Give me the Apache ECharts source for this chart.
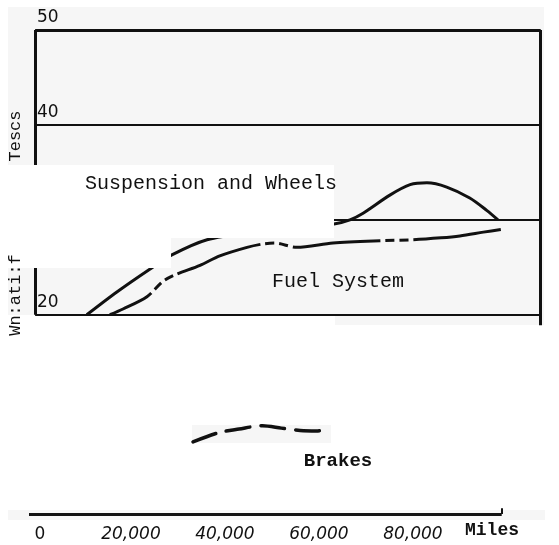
<!DOCTYPE html>
<html>
<head>
<meta charset="utf-8">
<script src="https://cdn.jsdelivr.net/npm/echarts@6/dist/echarts.min.js"></script>
<style>
html, body { margin: 0; padding: 0; background: #fff; }
#chart { width: 559px; height: 545px; }
</style>
</head>
<body>
<div id="chart"></div>
<script>
// [thousand miles, value]
const suspension = [[10.6, 20.0], [17, 22.4], [24.0, 24.8], [28.7, 26.3], [36.2, 27.9], [45.3, 28.6],
  [56.0, 29.0], [63.2, 29.55], [66.6, 30.0], [69.4, 30.7], [75.1, 32.6], [79.4, 33.7], [83.0, 33.9],
  [87.2, 33.45], [92.1, 32.3], [95.7, 31.0], [98.1, 30.0]];
const fuel = [[15.5, 20.0], [18.3, 20.6], [23.4, 21.9], [26.8, 23.5], [29.4, 24.2], [34.7, 25.2],
  [38.9, 26.2], [44.7, 27.1], [48, 27.45], [50.6, 27.55], [55.3, 27.1], [63, 27.55], [73, 27.8],
  [80, 27.9], [86, 28.1], [90, 28.3], [95, 28.7], [98.9, 29.0]];
const brakes = [[33.2, 6.6], [38.5, 7.55], [43, 7.95], [48, 8.3], [52, 8.05], [56, 7.8], [59.5, 7.75], [62.3, 8.05]];

const xTicks = [0, 20000, 40000, 60000, 80000];
const xTickLabels = ['0', '20,000', '40,000', '60,000', '80,000'];
const yTicks = [20, 40, 50];
const levels = [50, 40, 30, 20];

const toMiles = arr => arr.map(p => [p[0] * 1000, p[1]]);

const INK = '#111';
const left = -400, right = 107200;

// frame and level lines
const frame = levels.map((v, i) => [
  { coord: [left, v], lineStyle: { width: i === 0 ? 3 : 2 } },
  { coord: [right, v] }
]);
frame.push([{ coord: [left, 50], lineStyle: { width: 3 } }, { coord: [left, 20] }]);
frame.push([{ coord: [right, 50], lineStyle: { width: 3 } }, { coord: [right, 18.9] }]);
frame.push([{ coord: [-1700, -1], lineStyle: { width: 3 } }, { coord: [98900, -1] }]);
frame.push([{ coord: [98900, -1], lineStyle: { width: 2 } }, { coord: [98900, -0.4] }]);

const chart = echarts.init(document.getElementById('chart'));
chart.setOption({
  animation: false,
  backgroundColor: '#fff',
  grid: { left: 29, right: 15, top: 30, bottom: 31 },
  xAxis: {
    type: 'value', min: -1700, max: 107900,
    axisLine: { show: false }, axisTick: { show: false }, splitLine: { show: false },
    name: 'Miles', nameLocation: 'end', nameGap: -79,
    nameTextStyle: { fontFamily: 'Liberation Mono', fontWeight: 'bold', fontSize: 18, color: INK,
      verticalAlign: 'top', padding: [17, 0, 0, 0] },
    axisLabel: {
      customValues: xTicks, margin: 12,
      formatter: v => {
        const i = xTicks.indexOf(v);
        return (i === 0 ? '{up|' : '{it|') + xTickLabels[i] + '}';
      },
      rich: {
        up: { fontFamily: 'DejaVu Sans', fontSize: 17, color: INK, padding: [0, 0, 0, 6] },
        it: { fontFamily: 'DejaVu Sans', fontStyle: 'italic', fontSize: 17, color: INK }
      }
    }
  },
  yAxis: {
    type: 'value', min: -1, max: 50,
    axisLine: { show: false }, axisTick: { show: false }, splitLine: { show: false },
    axisLabel: {
      customValues: yTicks, inside: true, margin: 8,
      fontFamily: 'DejaVu Sans', fontSize: 17, color: INK,
      verticalAlign: 'bottom', padding: [0, 0, 4, 0]
    }
  },
  series: [
    {
      name: 'Suspension and Wheels', type: 'line', data: toMiles(suspension), smooth: 0.3,
      symbol: 'none', lineStyle: { color: INK, width: 3 }, silent: true
    },
    {
      name: 'Fuel System', type: 'line', data: toMiles(fuel), smooth: 0.3,
      symbol: 'none', lineStyle: { color: INK, width: 3, type: [88, 5, 9, 5, 9, 5], dashOffset: 41 },
      silent: true
    },
    {
      name: 'Brakes', type: 'line', data: toMiles(brakes), smooth: 0.3,
      symbol: 'none', lineStyle: { color: INK, width: 3.5, type: [24, 11], cap: 'round' }, silent: true,
      markLine: {
        silent: true, symbol: ['none', 'none'], label: { show: false },
        lineStyle: { color: INK, type: 'solid' },
        data: frame
      }
    }
  ],
  graphic: [
    // paper tones of the scan
    { type: 'rect', z: -10, silent: true, shape: { x: 8, y: 7, width: 536, height: 308 }, style: { fill: '#f6f6f6' } },
    { type: 'rect', z: -10, silent: true, shape: { x: 335, y: 315, width: 209, height: 10 }, style: { fill: '#f6f6f6' } },
    { type: 'rect', z: -10, silent: true, shape: { x: 192, y: 425, width: 139, height: 18 }, style: { fill: '#f6f6f6' } },
    { type: 'rect', z: -10, silent: true, shape: { x: 8, y: 510, width: 537, height: 10 }, style: { fill: '#f6f6f6' } },
    // pasted label patch
    { type: 'rect', z: 100, silent: true, shape: { x: 0, y: 165, width: 334, height: 73 }, style: { fill: '#fff' } },
    { type: 'rect', z: 100, silent: true, shape: { x: 0, y: 237, width: 171, height: 31 }, style: { fill: '#fff' } },
    { type: 'text', z: 101, silent: true, x: 85, y: 184,
      style: { text: 'Suspension and Wheels', fontFamily: 'Liberation Mono', fontSize: 20, fill: INK, verticalAlign: 'middle' } },
    { type: 'text', z: 101, silent: true, x: 338, y: 282,
      style: { text: 'Fuel System', fontFamily: 'Liberation Mono', fontSize: 20, fill: INK, align: 'center', verticalAlign: 'middle' } },
    { type: 'text', z: 101, silent: true, x: 338, y: 461,
      style: { text: 'Brakes', fontFamily: 'Liberation Mono', fontSize: 19, fontWeight: 'bold', fill: INK, align: 'center', verticalAlign: 'middle' } },
    // vertical axis title (scan fragments)
    { type: 'text', z: 101, silent: true, x: 15, y: 136, rotation: Math.PI / 2,
      style: { text: 'Tescs', fontFamily: 'Liberation Mono', fontSize: 17, fill: INK, align: 'center', verticalAlign: 'middle' } },
    { type: 'text', z: 101, silent: true, x: 15, y: 295, rotation: Math.PI / 2,
      style: { text: 'Wn:ati:f', fontFamily: 'Liberation Mono', fontSize: 17, fill: INK, align: 'center', verticalAlign: 'middle' } }
  ]
});
</script>
</body>
</html>
